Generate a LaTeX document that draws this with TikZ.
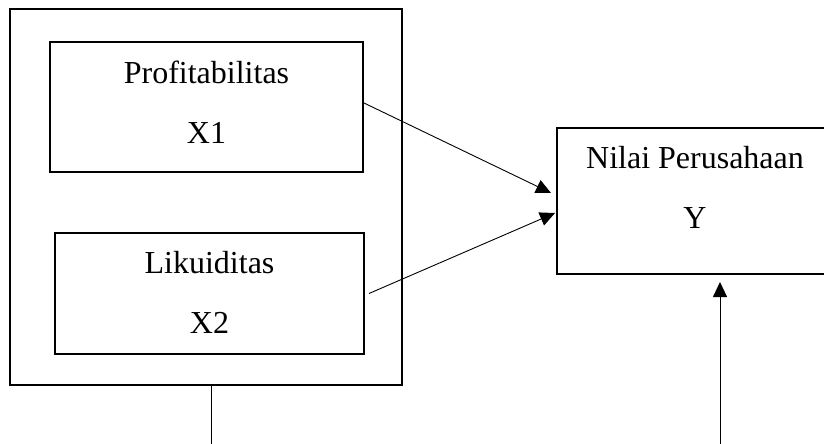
\documentclass[tikz,border=0pt]{standalone}
\usepackage{fontspec}
\setmainfont{Liberation Serif}
\usetikzlibrary{positioning, arrows.meta}

\begin{document}
\begin{tikzpicture}[
  x=1pt, y=-1pt,
  every node/.style={rectangle, sharp corners, align=center, inner sep=0pt},
  varbox/.style={draw=black, line width=2pt, font=\fontsize{32}{60}\selectfont},
  arrow/.style={-{Triangle[length=15pt, width=14pt]}, line width=0.9pt, black}
]
\useasboundingbox (0,0) rectangle (824,444);

% Outer frame round the independent variables
\node[
  draw=black,
  line width=1.1pt,
  minimum width=392pt,
  minimum height=376pt
] (frame) at (206,197) {};

% Left top node: Profitabilitas
\node[
  varbox,
  text depth=10pt,
  minimum width=313pt,
  minimum height=130pt
] (profit) at (206.5,107) {Profitabilitas\\X1};

% Left bottom node: Likuiditas
\node[
  varbox,
  text depth=2pt,
  minimum width=309pt,
  minimum height=121pt
] (likuid) at (209.5,293.5) {Likuiditas\\X2};

% Right node: Nilai Perusahaan
\node[
  varbox,
  text depth=28pt,
  minimum width=276pt,
  minimum height=146pt
] (nilai) at (695,201) {Nilai Perusahaan\\Y};

% Free ends below the picture
\coordinate (framebot) at (211,444);
\coordinate (nilaibot) at (720,444);

% Arrows
\draw[arrow] ([yshift=4pt]profit.east) -- ([xshift=-5pt, yshift=8pt]nilai.west);
\draw[arrow] ([xshift=4pt]likuid.east) -- ([xshift=-1pt, yshift=-12pt]nilai.west);
\draw[arrow] (nilaibot) -- ([xshift=25pt, yshift=-7pt]nilai.south);
\draw[line width=0.9pt] ([xshift=5pt]frame.south) -- (framebot);

\end{tikzpicture}
\end{document}
